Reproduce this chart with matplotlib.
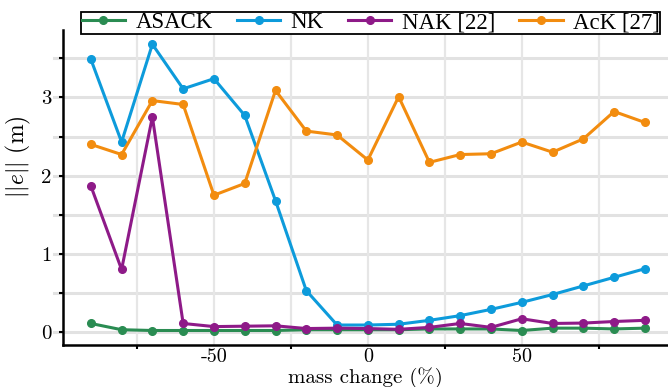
import matplotlib
matplotlib.use("Agg")
import matplotlib.pyplot as plt

# mass change sweep (%)
mass_change = [-90, -80, -70, -60, -50, -40, -30, -20, -10, 0,
               10, 20, 30, 40, 50, 60, 70, 80, 90]

# position error norm ||e|| (m) per method
asack = [0.11, 0.03, 0.02, 0.02, 0.02, 0.02, 0.02, 0.03, 0.03, 0.03,
         0.03, 0.04, 0.04, 0.04, 0.02, 0.05, 0.05, 0.04, 0.05]
nk = [3.49, 2.43, 3.68, 3.11, 3.24, 2.77, 1.68, 0.53, 0.09, 0.09,
      0.10, 0.15, 0.21, 0.29, 0.38, 0.48, 0.59, 0.70, 0.81]
nak = [1.87, 0.80, 2.75, 0.11, 0.07, 0.075, 0.08, 0.045, 0.05, 0.045,
       0.035, 0.06, 0.11, 0.06, 0.17, 0.11, 0.115, 0.135, 0.15]
ack = [2.40, 2.27, 2.96, 2.91, 1.75, 1.90, 3.09, 2.57, 2.52, 2.20,
       3.01, 2.17, 2.27, 2.28, 2.43, 2.30, 2.47, 2.82, 2.68]

series = [
    ("ASACK", asack, "#2a8c52"),
    ("NK", nk, "#0d9bdb"),
    ("NAK [22]", nak, "#8e1a88"),
    ("AcK [27]", ack, "#f28c0f"),
]

xticks = [-50, 0, 50]
xticklabels = ["-50", "0", "50"]
xminor = [-75, -25, 25, 75]
yticks = [0, 1, 2, 3]
yminor = [0.5, 1.5, 2.5, 3.5]

plt.rcParams["font.family"] = "cmr10"
plt.rcParams["mathtext.fontset"] = "cm"
plt.rcParams["axes.unicode_minus"] = False

fig = plt.figure(figsize=(6.68, 3.87), dpi=100)
ax = fig.add_axes([0.094, 0.108, 0.906, 0.814])

# horizontal grid, slightly overhanging the left spine
for y in yticks + yminor:
    ax.axhline(y, xmin=-0.014, xmax=1, color="#e2e2e2", lw=2.2,
               zorder=0, clip_on=False)
for x in xticks + xminor:
    ax.axvline(x, color="#e6e6e6", lw=1.6, zorder=0)

for name, vals, col in series:
    ax.plot(mass_change, vals, color=col, lw=2.2, marker="o", ms=5.5,
            label=name, zorder=3)

ax.set_xlim(-99.1, 97.5)
ax.set_ylim(-0.168, 3.86)

ax.set_xticks(xticks)
ax.set_xticklabels(xticklabels)
ax.set_xticks(xminor, minor=True)
ax.set_yticks(yticks)
ax.set_yticklabels([str(v) for v in yticks])
ax.set_yticks(yminor, minor=True)

ax.tick_params(axis="x", which="major", length=0, pad=2, labelsize=14.5)
ax.tick_params(axis="x", which="minor", length=3, width=1.5, direction="out")
ax.tick_params(axis="y", which="both", length=3, width=1.5, direction="out",
               pad=5, labelsize=15)

for side in ["top", "right"]:
    ax.spines[side].set_visible(False)
for side in ["left", "bottom"]:
    ax.spines[side].set_linewidth(1.8)

ax.set_xlabel("mass change (%)", fontsize=15)
ax.xaxis.set_label_coords(0.5, -0.07)
ax.set_ylabel(r"$||e||$ (m)", fontsize=17)
ax.yaxis.set_label_coords(-0.05, 0.6)

leg = fig.legend(loc="upper center", bbox_to_anchor=(0.555, 0.969), ncol=4,
                 prop={"family": "Liberation Serif", "size": 16.5},
                 frameon=True, fancybox=False, edgecolor="black",
                 borderpad=0.02, handlelength=1.9, handletextpad=0.45,
                 columnspacing=1.05, borderaxespad=0)
leg.get_frame().set_linewidth(1.3)
leg.get_frame().set_alpha(1)
for h in leg.legend_handles:
    h.set_linewidth(2.2)

fig.savefig("out.png", dpi=100)
